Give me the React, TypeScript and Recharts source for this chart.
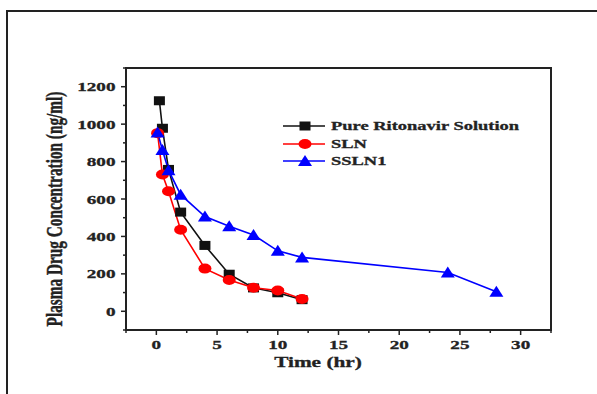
import React from 'react';
import {
  LineChart,
  Line,
  XAxis,
  YAxis,
  Legend,
  ReferenceArea,
} from 'recharts';

// sampling times (hr) and plasma concentrations (ng/ml)
const pureTimes = [0.25, 0.5, 1, 2, 4, 6, 8, 10, 12];
const pureValues = [1125, 978, 758, 530, 352, 198, 125, 99, 62];
const slnTimes = [0.1, 0.5, 1, 2, 4, 6, 8, 10, 12];
const slnValues = [952, 731, 641, 436, 228, 167, 126, 111, 66];
const sslnTimes = [0.1, 0.5, 1, 2, 4, 6, 8, 10, 12, 24, 28];
const sslnValues = [955, 862, 754, 623, 506, 454, 408, 323, 288, 207, 105];

const xTicks = [-2.5, 0, 2.5, 5, 7.5, 10, 12.5, 15, 17.5, 20, 22.5, 25, 27.5, 30, 32.5];
const yTicks = [-100, 0, 100, 200, 300, 400, 500, 600, 700, 800, 900, 1000, 1100, 1200, 1300];

const seriesNames = ['Pure Ritonavir Solution', 'SLN', 'SSLN1'];
const seriesColors = ['#111111', '#ff0000', '#0000ff'];

const FONT = '"Liberation Serif", "Times New Roman", serif';
const STRETCH = 1.42;
const INK = '#222';

const pureData = pureTimes.map((t, i) => ({ t, v: pureValues[i] }));
const slnData = slnTimes.map((t, i) => ({ t, v: slnValues[i] }));
const sslnData = sslnTimes.map((t, i) => ({ t, v: sslnValues[i] }));

function Marker({ kind, cx, cy, color }: { kind: number; cx: number; cy: number; color: string }) {
  if (kind === 0) return <rect x={cx - 5.5} y={cy - 4.5} width={11} height={9} fill={color} />;
  if (kind === 1) return <ellipse cx={cx} cy={cy} rx={6.5} ry={5} fill={color} />;
  return <path d={`M${cx},${cy - 6} L${cx + 7},${cy + 5} L${cx - 7},${cy + 5} Z`} fill={color} />;
}

function dotFor(kind: number) {
  return (p: any) => (
    <Marker key={`d${kind}-${p.index}`} kind={kind} cx={p.cx} cy={p.cy} color={seriesColors[kind]} />
  );
}

function XTick({ x, y, payload }: any) {
  const v = payload.value;
  const major = v % 5 === 0 && v >= 0 && v <= 30;
  return (
    <g>
      <line x1={x} x2={x} y1={y} y2={y + (major ? 5 : 3)} stroke={INK} strokeWidth={1.5} />
      {major && (
        <text
          transform={`translate(${x},${y + 18.5}) scale(${STRETCH},1)`}
          textAnchor="middle"
          fontFamily={FONT}
          fontWeight="bold"
          fontSize={13.5}
          fill={INK}
          stroke={INK}
          strokeWidth={0.3}
        >
          {v}
        </text>
      )}
    </g>
  );
}

function YTick({ x, y, payload }: any) {
  const v = payload.value;
  const major = v % 200 === 0 && v >= 0 && v <= 1200;
  return (
    <g>
      <line x1={x} x2={x - (major ? 5 : 3)} y1={y} y2={y} stroke={INK} strokeWidth={1.5} />
      {major && (
        <text
          transform={`translate(${x - 10.5},${y + 4.6}) scale(${STRETCH},1)`}
          textAnchor="end"
          fontFamily={FONT}
          fontWeight="bold"
          fontSize={13.5}
          fill={INK}
          stroke={INK}
          strokeWidth={0.3}
        >
          {v}
        </text>
      )}
    </g>
  );
}

function LegendBox() {
  return (
    <div style={{ display: 'flex', flexDirection: 'column' }}>
      {seriesNames.map((name, i) => (
        <div key={name} style={{ display: 'flex', alignItems: 'center', height: 17.8 }}>
          <svg width={46} height={16}>
            <line x1={0} x2={42} y1={8} y2={8} stroke={seriesColors[i]} strokeWidth={1.6} />
            <Marker kind={i} cx={22} cy={8} color={seriesColors[i]} />
          </svg>
          <span
            style={{
              fontFamily: FONT,
              fontWeight: 'bold',
              fontSize: 13,
              color: INK,
              WebkitTextStroke: '0.3px #222',
              transform: `scaleX(${STRETCH})`,
              transformOrigin: 'left center',
              whiteSpace: 'nowrap',
              marginLeft: 2,
            }}
          >
            {name}
          </span>
        </div>
      ))}
    </div>
  );
}

export default function App() {
  return (
    <div
      style={{
        position: 'fixed',
        left: 0,
        top: 0,
        width: 597,
        height: 394,
        overflow: 'hidden',
        background: '#fff',
      }}
    >
      <div
        style={{
          position: 'absolute',
          left: 6,
          top: 10,
          width: 700,
          height: 500,
          border: '2px solid #222',
        }}
      />
      <div style={{ position: 'absolute', left: 0, top: 0 }}>
        <LineChart width={597} height={394} margin={{ top: 68, right: 46, bottom: 24, left: 0 }}>
          <ReferenceArea
            x1={-2.5}
            x2={32.5}
            y1={-100}
            y2={1300}
            fill="none"
            stroke={INK}
            strokeWidth={2}
            ifOverflow="visible"
          />
          <XAxis
            type="number"
            dataKey="t"
            domain={[-2.5, 32.5]}
            ticks={xTicks}
            interval={0}
            height={40}
            axisLine={{ stroke: INK, strokeWidth: 2 }}
            tickLine={false}
            tickSize={0}
            tickMargin={0}
            tick={(p: any) => <XTick key={`x${p.index}`} {...p} />}
            label={{
              content: () => (
                <text
                  transform={`translate(318,367) scale(${STRETCH},1)`}
                  textAnchor="middle"
                  fontFamily={FONT}
                  fontWeight="bold"
                  fontSize={15}
                  fill={INK}
                  stroke={INK}
                  strokeWidth={0.3}
                >
                  Time (hr)
                </text>
              ),
            }}
          />
          <YAxis
            type="number"
            dataKey="v"
            domain={[-100, 1300]}
            ticks={yTicks}
            interval={0}
            width={126}
            axisLine={{ stroke: INK, strokeWidth: 2 }}
            tickLine={false}
            tickSize={0}
            tickMargin={0}
            tick={(p: any) => <YTick key={`y${p.index}`} {...p} />}
            label={{
              content: () => (
                <text
                  transform="translate(62,209) scale(1.45,1) rotate(-90)"
                  textAnchor="middle"
                  fontFamily={FONT}
                  fontWeight="bold"
                  fontSize={15.3}
                  fill={INK}
                  stroke={INK}
                  strokeWidth={0.3}
                >
                  Plasma Drug Concentration (ng/ml)
                </text>
              ),
            }}
          />
          <Legend
            layout="vertical"
            align="center"
            verticalAlign="middle"
            wrapperStyle={{ left: 283, top: 117, width: 260 }}
            content={() => <LegendBox />}
          />
          <Line
            data={pureData}
            dataKey="v"
            name={seriesNames[0]}
            stroke={seriesColors[0]}
            strokeWidth={1.6}
            dot={dotFor(0)}
            isAnimationActive={false}
          />
          <Line
            data={slnData}
            dataKey="v"
            name={seriesNames[1]}
            stroke={seriesColors[1]}
            strokeWidth={1.6}
            dot={dotFor(1)}
            isAnimationActive={false}
          />
          <Line
            data={sslnData}
            dataKey="v"
            name={seriesNames[2]}
            stroke={seriesColors[2]}
            strokeWidth={1.6}
            dot={dotFor(2)}
            isAnimationActive={false}
          />
        </LineChart>
      </div>
    </div>
  );
}
